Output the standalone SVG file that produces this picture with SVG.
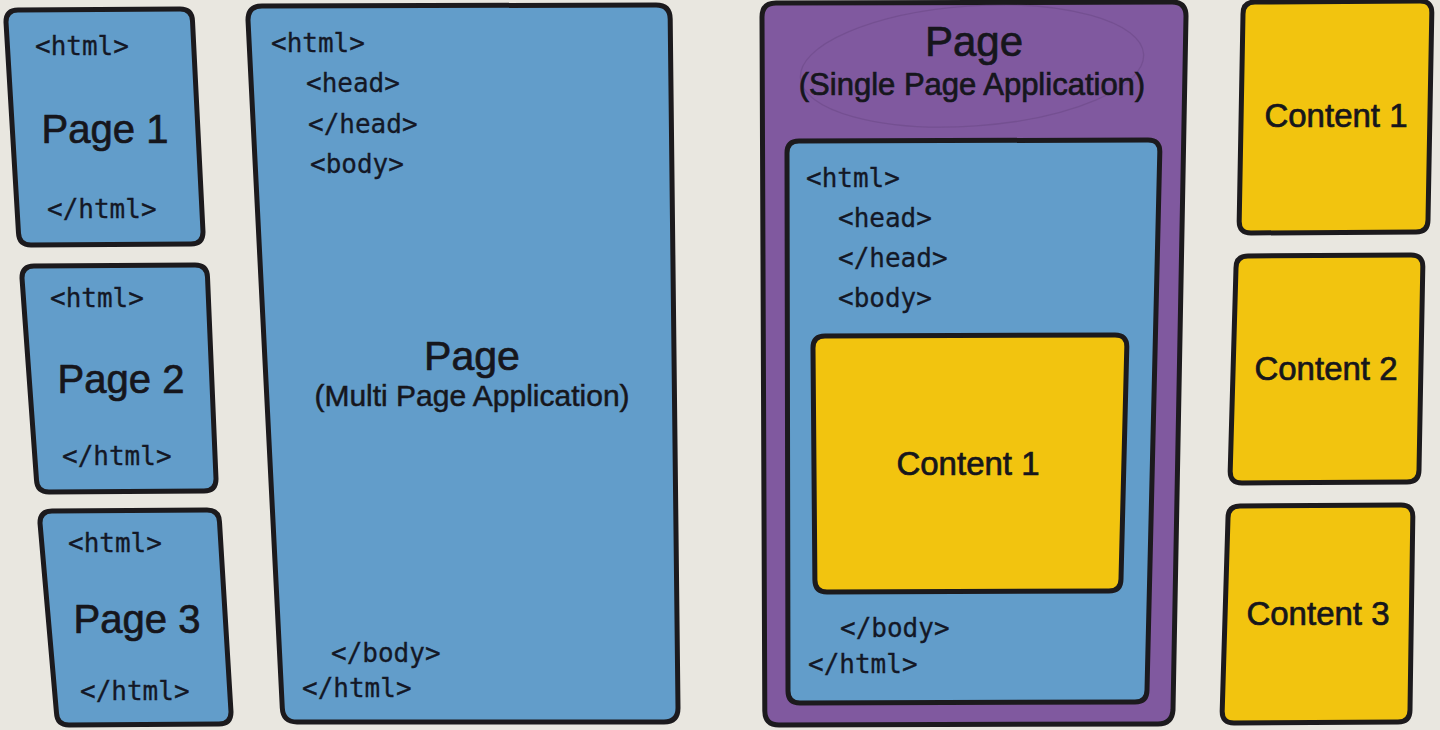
<svg xmlns="http://www.w3.org/2000/svg" width="1440" height="730" viewBox="0 0 1440 730">
  <style>
    .box { stroke: #1c1a1d; stroke-width: 5; stroke-linejoin: round; }
    .blue { fill: #629dca; }
    .purple { fill: #80599f; }
    .yellow { fill: #f2c40f; }
    .code { font-family: "DejaVu Sans Mono", "Liberation Mono", monospace; font-size: 26px; fill: #141826; stroke: #141826; stroke-width: 0.3; }
    .title { font-family: "Liberation Sans", Arial, sans-serif; fill: #16161c; stroke: #16161c; stroke-width: 0.7; text-anchor: middle; }
    .big { font-size: 40px; }
    .sub { font-size: 30px; stroke-width: 0.5; }
    .content { font-size: 33px; }
  </style>

  <rect width="1440" height="730" fill="#e9e7e0"/>

  <!-- Multi page application: separate documents -->
  <g id="page1">
    <path class="box blue" d="M18,10 L180,9 Q192,9 192.5,21 L203,232 Q203,244 191,244 L31,245 Q19,245 18.5,233 L6,22 Q6,10 18,10 Z"/>
    <text class="code" x="35" y="55">&lt;html&gt;</text>
    <text class="title big" x="105" y="143">Page 1</text>
    <text class="code" x="47" y="218">&lt;/html&gt;</text>
  </g>

  <g id="page2">
    <path class="box blue" d="M34,266 L195,265 Q207,265 207.5,277 L216,479 Q216,491 204,491 L49,492 Q37,492 36.5,480 L22,278 Q22,266 34,266 Z"/>
    <text class="code" x="50" y="307">&lt;html&gt;</text>
    <text class="title big" x="121" y="393">Page 2</text>
    <text class="code" x="62" y="465">&lt;/html&gt;</text>
  </g>

  <g id="page3">
    <path class="box blue" d="M52,511 L207,510 Q219,510 219.5,522 L231,712 Q231,724 219,724 L69,725 Q57,725 56.5,713 L40,523 Q40,511 52,511 Z"/>
    <text class="code" x="68" y="552">&lt;html&gt;</text>
    <text class="title big" x="137" y="633">Page 3</text>
    <text class="code" x="80" y="700">&lt;/html&gt;</text>
  </g>

  <g id="mpa-page">
    <path class="box blue" d="M262,6 L656,5 Q670,5 670.2,19 L678,708 Q678,722 664,722 L297,722 Q283,722 282.3,708 L248,20 Q248,6 262,6 Z"/>
    <text class="code" x="271" y="52">&lt;html&gt;</text>
    <text class="code" x="306" y="92">&lt;head&gt;</text>
    <text class="code" x="308" y="133">&lt;/head&gt;</text>
    <text class="code" x="310" y="173">&lt;body&gt;</text>
    <text class="title" x="472" y="370" font-size="41">Page</text>
    <text class="title sub" x="472" y="406">(Multi Page Application)</text>
    <text class="code" x="331" y="662">&lt;/body&gt;</text>
    <text class="code" x="302" y="697">&lt;/html&gt;</text>
  </g>

  <!-- Single page application: one shell document swapping content -->
  <g id="spa-page">
    <path class="box purple" d="M776,3 L1172,2 Q1186,2 1186,16 L1173,710 Q1172,724 1158,724 L779,725 Q765,725 764.8,711 L762,17 Q762,3 776,3 Z"/>
    <ellipse cx="972" cy="66" rx="172" ry="60" fill="none" stroke="#5f3f78" stroke-width="1.3" opacity="0.35" transform="rotate(-4 972 66)"/>
    <text class="title" x="974" y="56" font-size="42">Page</text>
    <text class="title" x="972" y="95" font-size="31" stroke-width="0.5">(Single Page Application)</text>
  </g>

  <g id="spa-html">
    <path class="box blue" d="M799,141 L1148,140 Q1160,140 1159.8,152 L1147,690 Q1147,702 1135,702 L800,703 Q788,703 788,691 L787,153 Q787,141 799,141 Z"/>
    <text class="code" x="806" y="187">&lt;html&gt;</text>
    <text class="code" x="838" y="227">&lt;head&gt;</text>
    <text class="code" x="838" y="267">&lt;/head&gt;</text>
    <text class="code" x="838" y="307">&lt;body&gt;</text>
    <text class="code" x="840" y="637">&lt;/body&gt;</text>
    <text class="code" x="808" y="673">&lt;/html&gt;</text>
  </g>

  <g id="spa-content">
    <path class="box yellow" d="M825,336 L1115,335 Q1127,335 1126.8,347 L1121,579 Q1121,591 1109,591 L827,592 Q815,592 814.9,580 L813,348 Q813,336 825,336 Z"/>
    <text class="title content" x="968" y="475">Content 1</text>
  </g>

  <!-- Interchangeable content blocks -->
  <g id="content1">
    <path class="box yellow" d="M1255,2 L1420,1 Q1432,1 1431.8,13 L1428,220 Q1428,232 1416,232 L1251,233 Q1239,233 1239.2,221 L1243,14 Q1243,2 1255,2 Z"/>
    <text class="title content" x="1336" y="127">Content 1</text>
  </g>

  <g id="content2">
    <path class="box yellow" d="M1248,256 L1411,255 Q1423,255 1422.8,267 L1419,470 Q1419,482 1407,482 L1242,483 Q1230,483 1230.2,471 L1236,268 Q1236,256 1248,256 Z"/>
    <text class="title content" x="1326" y="380">Content 2</text>
  </g>

  <g id="content3">
    <path class="box yellow" d="M1240,506 L1401,505 Q1413,505 1412.8,517 L1410,710 Q1410,722 1398,722 L1234,723 Q1222,723 1222.2,711 L1228,518 Q1228,506 1240,506 Z"/>
    <text class="title content" x="1318" y="625">Content 3</text>
  </g>

  <g id="connectors"></g>
</svg>
